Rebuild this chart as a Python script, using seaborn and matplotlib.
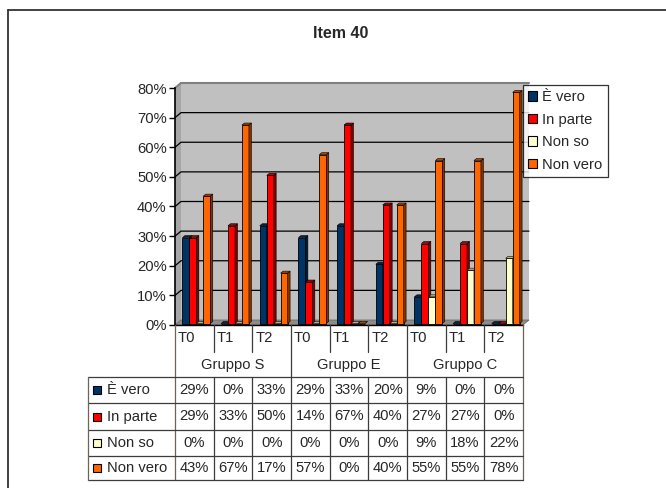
import numpy as np
import pandas as pd
import matplotlib
matplotlib.use("Agg")
import matplotlib.pyplot as plt
import seaborn as sns
from matplotlib.patches import Polygon, Rectangle
from matplotlib.lines import Line2D
from matplotlib.transforms import Affine2D
from matplotlib.colors import to_rgb

# ---------------- data ----------------
groups = ["Gruppo S", "Gruppo E", "Gruppo C"]
times = ["T0", "T1", "T2"]
series = ["È vero", "In parte", "Non so", "Non vero"]
e_vero = [29, 0, 33, 29, 33, 20, 9, 0, 0]
in_parte = [29, 33, 50, 14, 67, 40, 27, 27, 0]
non_so = [0, 0, 0, 0, 0, 0, 9, 18, 22]
non_vero = [43, 67, 17, 57, 0, 40, 55, 55, 78]
y_ticks = [0, 10, 20, 30, 40, 50, 60, 70, 80]
title = "Item 40"

colors = ["#003366", "#ff0000", "#ffffcc", "#ff6600"]

sns.set_theme(style="white")
plt.rcParams["font.family"] = ["Liberation Sans", "DejaVu Sans"]

W, H = 666, 488
fig = plt.figure(figsize=(W / 100, H / 100), dpi=100)
fig.patch.set_facecolor("white")
FS = 10.6


def fx(x):
    return x / W


def fy(y):
    return 1 - y / H


cats = [f"{g} {t}" for g in groups for t in times]
all_vals = [e_vero, in_parte, non_so, non_vero]
rows = []
for s, vals in zip(series, all_vals):
    for c, v in zip(cats, vals):
        rows.append({"cat": c, "serie": s, "val": v / 100})
df = pd.DataFrame(rows)

X0, X1, Y0, Y1 = 175, 523, 325, 88
ax = fig.add_axes([fx(X0), fy(Y0), (X1 - X0) / W, (Y0 - Y1) / H])
sns.barplot(data=df, x="cat", y="val", hue="serie", order=cats,
            hue_order=series, palette=colors, width=0.72, saturation=1,
            edgecolor="black", linewidth=0.6, ax=ax, legend=False)
ax.set_xlim(-0.5, 8.5)
ax.set_ylim(0, 0.8)
ax.patch.set_visible(False)
ax.set_xlabel("")
ax.set_ylabel("")
ax.set_xticks([])
ax.set_yticks(np.array(y_ticks) / 100)
ax.set_yticklabels([f"{t}%" for t in y_ticks], fontsize=FS)
ax.tick_params(axis="y", direction="out", length=4, width=1, color="black",
               pad=2, left=True)
for s in ["top", "right"]:
    ax.spines[s].set_visible(False)
ax.spines["left"].set_color("black")
ax.spines["left"].set_linewidth(1.2)
ax.spines["bottom"].set_color("black")
ax.spines["bottom"].set_linewidth(1.0)
ax.spines["left"].set_zorder(10)
ax.spines["bottom"].set_zorder(10)

TF = fig.transFigure
inv = TF.inverted()


def D(x, y, ox=0.0, oy=0.0):
    p = ax.transData.transform((x, y))
    return (p[0] + ox, p[1] + oy)


def addpoly(pts, **kw):
    pts = inv.transform(np.array(pts))
    poly = Polygon(pts, closed=True, transform=TF, clip_on=False, **kw)
    ax.add_patch(poly)
    return poly


OX, OY = 6, 5
# back wall
addpoly([D(-0.5, 0, OX, OY), D(8.5, 0, OX, OY), D(8.5, 0.8, OX, OY),
         D(-0.5, 0.8, OX, OY)], facecolor="#c0c0c0", edgecolor="none", zorder=0.1)
# left wall
addpoly([D(-0.5, 0), D(-0.5, 0.8), D(-0.5, 0.8, OX, OY), D(-0.5, 0, OX, OY)],
        facecolor="#a6a6a6", edgecolor="none", zorder=0.2)
# floor
addpoly([D(-0.5, 0), D(8.5, 0), D(8.5, 0, OX, OY), D(-0.5, 0, OX, OY)],
        facecolor="#8c8c8c", edgecolor="#606060", linewidth=0.5, zorder=0.3)
# top edge of wall
for (a, b, c) in [((-0.5, 0.8, 0, 0), (-0.5, 0.8, OX, OY), "#808080"),
                  ((-0.5, 0.8, OX, OY), (8.5, 0.8, OX, OY), "#808080")]:
    p1 = inv.transform(D(*a))
    p2 = inv.transform(D(*b))
    ax.add_line(Line2D([p1[0], p2[0]], [p1[1], p2[1]], transform=TF,
                       color=c, lw=1.5, clip_on=False, zorder=0.4))
# gridlines
for t in y_ticks[1:-1]:
    v = t / 100
    pts = inv.transform(np.array([D(-0.5, v), D(-0.5, v, OX, OY), D(8.5, v, OX, OY)]))
    ax.add_line(Line2D(pts[:, 0], pts[:, 1], transform=TF, color="black",
                       lw=0.9, clip_on=False, zorder=0.5))

# bars with depth
BX, BY = 2.0, 1.5      # shift of bars onto the floor
DX, DY = 2.5, 2.0      # depth of bars
bar_list = []
for i, cont in enumerate(ax.containers):
    for bar in cont:
        bar_list.append((bar.get_x(), i, bar))
bar_list.sort(key=lambda b: b[0])
for rank, (xb, i, bar) in enumerate(bar_list):
    z = 2 + rank * 0.01
    x, y, w, h = bar.get_x(), bar.get_y(), bar.get_width(), bar.get_height()
    bar.set_transform(ax.transData + Affine2D().translate(BX, BY))
    bar.set_zorder(z)
    bar.set_clip_on(False)
    col = np.array(to_rgb(colors[i]))
    side = tuple(col * 0.5)
    top = tuple(col * 0.7)
    addpoly([D(x + w, y, BX, BY), D(x + w, y + h, BX, BY),
             D(x + w, y + h, BX + DX, BY + DY), D(x + w, y, BX + DX, BY + DY)],
            facecolor=side, edgecolor="black", linewidth=0.4, zorder=z + 0.001)
    addpoly([D(x, y + h, BX, BY), D(x + w, y + h, BX, BY),
             D(x + w, y + h, BX + DX, BY + DY), D(x, y + h, BX + DX, BY + DY)],
            facecolor=top, edgecolor="black", linewidth=0.4, zorder=z + 0.002)

# title
fig.text(fx(341), fy(33), title, ha="center", va="center", fontsize=11.5,
         fontweight="bold")

# legend
handles = [Rectangle((0, 0), 1, 1, facecolor=c, edgecolor="black", linewidth=0.8)
           for c in colors]
leg = fig.legend(handles, series, loc="upper left",
                 bbox_to_anchor=(fx(523), fy(85)), bbox_transform=TF,
                 frameon=True, fancybox=False, shadow=False, fontsize=FS,
                 borderpad=0.35, handlelength=0.6, handleheight=0.6,
                 handletextpad=0.35, labelspacing=0.58, borderaxespad=0)
leg.get_frame().set_edgecolor("black")
leg.get_frame().set_linewidth(0.9)

# data table
def PX(xd):
    return ax.transData.transform((xd, 0))[0]


def line(xs, ys, color="#3c3c3c", lw=0.9):
    fig.add_artist(Line2D([fx(v) for v in xs], [fy(v) for v in ys],
                          transform=TF, color=color, lw=lw))


TOP, TROW, GROW = 325, 352, 377
row_y = [377, 403, 430, 456, 480]
XL = 88
xr = PX(8.5)
line([PX(-0.5), PX(-0.5)], [TOP, row_y[-1]], color="#6e6358")
for k in range(8):
    xb = PX(k + 0.5)
    if k in (2, 5):
        line([xb, xb], [TOP, row_y[-1]])
    else:
        line([xb, xb], [TOP, TROW])
        line([xb, xb], [GROW, row_y[-1]])
line([xr, xr], [TOP, row_y[-1]], color="#6e6358")
for ry in row_y:
    line([XL, xr], [ry, ry], color="#3c3c3c")
line([XL, XL], [row_y[0], row_y[-1]], color="#6e6358")

for k, c in enumerate(cats):
    fig.text(fx(PX(k - 0.5) + 3), fy(338), times[k % 3], ha="left",
             va="center", fontsize=FS)
for g, name in enumerate(groups):
    fig.text(fx(PX(3 * g + 1)), fy(365), name, ha="center", va="center",
             fontsize=FS)
for r, (s, vals) in enumerate(zip(series, all_vals)):
    yc = (row_y[r] + row_y[r + 1]) / 2
    fig.add_artist(Rectangle((fx(93), fy(yc + 4)), 8 / W, 8 / H, transform=TF,
                             facecolor=colors[r], edgecolor="black", lw=0.8))
    fig.text(fx(107), fy(yc), s, ha="left", va="center", fontsize=FS)
    for k, v in enumerate(vals):
        fig.text(fx(PX(k)), fy(yc), f"{v}%", ha="center", va="center",
                 fontsize=FS)

# outer frame
line([8, 8], [10, 488], color="#333333", lw=1.3)
line([8, 666], [10, 10], color="#333333", lw=1.3)

fig.savefig("out.png", dpi=100, facecolor="white")
